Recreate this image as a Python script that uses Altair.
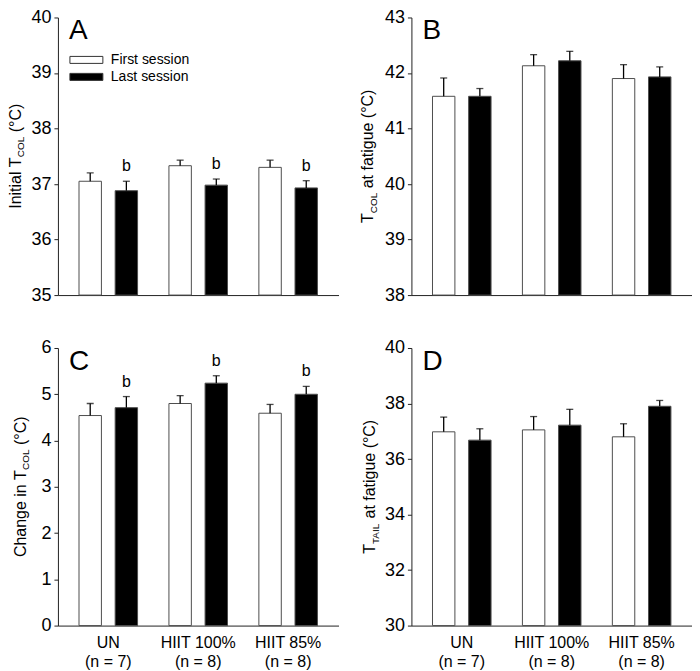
import altair as alt
import pandas as pd

# ---------------- data ----------------
groups = ["UN", "HIIT 100%", "HIIT 85%"]
group_n = ["(n = 7)", "(n = 8)", "(n = 8)"]
sessions = ["First session", "Last session"]

a_first = [37.05, 37.33, 37.30]
a_first_err = [0.15, 0.10, 0.13]
a_last = [36.88, 36.98, 36.93]
a_last_err = [0.17, 0.11, 0.13]
a_sig = ["b", "b", "b"]

b_first = [41.58, 42.13, 41.90]
b_first_err = [0.33, 0.20, 0.25]
b_last = [41.58, 42.22, 41.93]
b_last_err = [0.14, 0.17, 0.18]
b_sig = ["", "", ""]

c_first = [4.54, 4.80, 4.59]
c_first_err = [0.26, 0.17, 0.19]
c_last = [4.71, 5.24, 5.00]
c_last_err = [0.24, 0.16, 0.17]
c_sig = ["b", "b", "b"]

d_first = [36.98, 37.05, 36.80]
d_first_err = [0.53, 0.48, 0.47]
d_last = [36.68, 37.22, 37.90]
d_last_err = [0.41, 0.57, 0.21]
d_sig = ["", "", ""]

a_ticks = [35, 36, 37, 38, 39, 40]
b_ticks = [38, 39, 40, 41, 42, 43]
c_ticks = [0, 1, 2, 3, 4, 5, 6]
d_ticks = [30, 32, 34, 36, 38, 40]

# ---------------- style ----------------
FONT = "Liberation Sans"
W, H = 281, 278
AX = "#222222"
cats = [f"{g}|{n}" for g, n in zip(groups, group_n)]

EM = {' ': 0.278, '(': 0.333, ')': 0.333, '°': 0.4, 'C': 0.722, 'O': 0.778,
      'L': 0.556, 'T': 0.611, 'A': 0.667, 'I': 0.278, 'a': 0.556, 't': 0.278,
      'f': 0.278, 'i': 0.222, 'g': 0.556, 'u': 0.556, 'e': 0.556, 'n': 0.556,
      'l': 0.222, 'h': 0.556}


def text_w(s, fs):
    return sum(EM.get(ch, 0.556) for ch in s) * fs


def title_layers(parts, tx, fs=16, sub_fs=10):
    widths = [text_w(t, sub_fs if sub else fs) for t, sub in parts]
    total = sum(widths)
    y0 = H / 2 + total / 2
    layers = []
    acc = 0.0
    for (t, sub), w in zip(parts, widths):
        lead = len(t) - len(t.lstrip(' '))
        txt = t.lstrip(' ')
        offs = acc + text_w(' ' * lead, sub_fs if sub else fs)
        layers.append(
            alt.Chart(pd.DataFrame({"t": [txt]}))
            .mark_text(angle=270, align="left", baseline="alphabetic",
                       fontSize=sub_fs if sub else fs, font=FONT, color="black")
            .encode(text="t:N", x=alt.value(tx + (3.5 if sub else 0)),
                    y=alt.value(y0 - offs))
        )
        acc += w
    return layers


def panel(first, first_err, last, last_err, sig, domain, ticks, letter,
          tparts, tx, xlabels, legend=False):
    rows = []
    for i, cat in enumerate(cats):
        rows.append(dict(cat=cat, session=sessions[0], mean=first[i],
                         top=first[i] + first_err[i], base=domain[0], sig=""))
        rows.append(dict(cat=cat, session=sessions[1], mean=last[i],
                         top=last[i] + last_err[i], base=domain[0], sig=sig[i]))
    df = pd.DataFrame(rows)

    x = alt.X("cat:N", sort=cats,
              scale=alt.Scale(paddingInner=0.2, paddingOuter=0.16),
              axis=alt.Axis(title=None, labels=xlabels, ticks=False,
                            labelExpr="split(datum.label, '|')", labelAngle=0,
                            labelFontSize=16, labelFont=FONT, labelColor="black",
                            labelPadding=9, labelLineHeight=19,
                            domainColor=AX, domainWidth=1))
    xo = alt.XOffset("session:N", sort=sessions,
                     scale=alt.Scale(paddingInner=0.38, paddingOuter=0.185))
    yscale = alt.Scale(domain=domain, nice=False, zero=False)
    y = alt.Y("mean:Q", scale=yscale,
              axis=alt.Axis(title=None, values=ticks, format="d", tickSize=4, grid=False,
                            labelFontSize=18, labelFont=FONT, labelColor="black",
                            labelPadding=3, domainColor=AX, tickColor=AX,
                            domainWidth=1, tickWidth=1))

    base = alt.Chart(df)
    bars = base.mark_bar(stroke="#4d4d4d", strokeWidth=1).encode(
        x=x, xOffset=xo, y=y, y2="base:Q",
        fill=alt.Fill("session:N", sort=sessions,
                      scale=alt.Scale(domain=sessions, range=["white", "black"]),
                      legend=None))
    rules = base.mark_rule(color="black", strokeWidth=1.3).encode(
        x=x, xOffset=xo, y="mean:Q", y2="top:Q")
    caps = base.mark_tick(color="black", thickness=1.3, size=7).encode(
        x=x, xOffset=xo, y=alt.Y("top:Q", scale=yscale))
    sigs = base.transform_filter("datum.sig != ''").mark_text(
        dy=-10, baseline="alphabetic", fontSize=16, font=FONT, color="black").encode(
        x=x, xOffset=xo, y=alt.Y("top:Q", scale=yscale), text="sig:N")
    let = alt.Chart(pd.DataFrame({"t": [letter]})).mark_text(
        align="left", baseline="alphabetic", fontSize=28, font=FONT, color="black").encode(
        text="t:N", x=alt.value(11), y=alt.value(22))

    layers = [bars, rules, caps, sigs, let] + title_layers(tparts, tx)

    if legend:
        fills = ["white", "black"]
        ys = [(39, 46), (56, 63)]
        for s, f, (y1, y2) in zip(sessions, fills, ys):
            ldf = pd.DataFrame({"s": [s]})
            layers.append(alt.Chart(ldf).mark_rect(fill=f, stroke="#333333", strokeWidth=1).encode(
                x=alt.value(12), x2=alt.value(45), y=alt.value(y1), y2=alt.value(y2)))
            layers.append(alt.Chart(ldf).mark_text(
                align="left", baseline="middle", fontSize=14, font=FONT, color="black").encode(
                text="s:N", x=alt.value(53), y=alt.value((y1 + y2) / 2 + 0.5)))

    return alt.layer(*layers).properties(width=W, height=H)


pA = panel(a_first, a_first_err, a_last, a_last_err, a_sig, [35, 40], a_ticks, "A",
           [("Initial T", False), ("COL", True), (" (°C)", False)], -37, False, legend=True)
pB = panel(b_first, b_first_err, b_last, b_last_err, b_sig, [38, 43], b_ticks, "B",
           [("T", False), ("COL", True), (" at fatigue (°C)", False)], -38, False)
pC = panel(c_first, c_first_err, c_last, c_last_err, c_sig, [0, 6], c_ticks, "C",
           [("Change in T", False), ("COL", True), (" (°C)", False)], -32, True)
pD = panel(d_first, d_first_err, d_last, d_last_err, d_sig, [30, 40], d_ticks, "D",
           [("T", False), ("TAIL", True), (" at fatigue (°C)", False)], -36, True)

chart = alt.concat(pA, pB, pC, pD, columns=2,
                   spacing=alt.RowColnumber(row=35, column=22)).properties(
    padding=0, background="white"
).configure_view(stroke=None).resolve_scale(fill="shared")

chart.save("out.html", embed_options={"renderer": "svg", "actions": False})
